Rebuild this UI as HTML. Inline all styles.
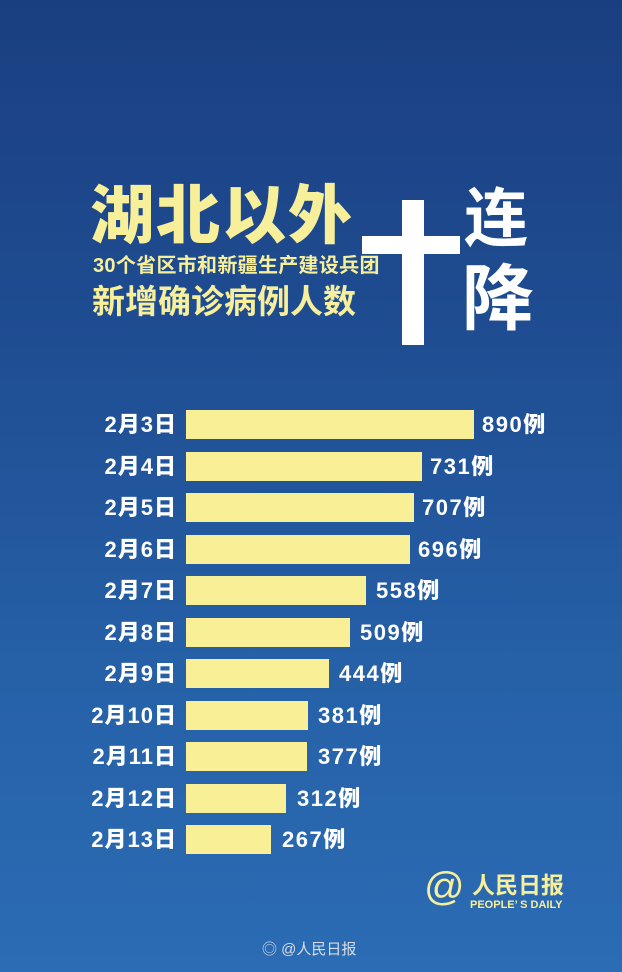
<!DOCTYPE html>
<html><head><meta charset="utf-8"><style>
body{margin:0;width:622px;height:972px;overflow:hidden;}
.bg{position:relative;width:622px;height:972px;background:linear-gradient(180deg,#1a3f80 0%,#1f4d92 35%,#2661a8 70%,#2b6cb4 100%);font-family:"Liberation Sans","Noto Sans CJK SC",sans-serif;font-weight:bold;}
.t{position:absolute;white-space:nowrap;}
.y{color:#f8ef9a;}
.bar{position:absolute;left:186px;height:29px;background:#f8ef96;}
.lab{position:absolute;right:445px;color:#fff;font-size:22px;letter-spacing:1px;line-height:29px;white-space:nowrap;font-weight:900;}
.val{position:absolute;color:#fff;font-size:22px;letter-spacing:1.5px;line-height:29px;white-space:nowrap;font-weight:900;}
</style></head><body><div class="bg">
<div class="t y" style="left:90px;top:176px;font-size:64px;line-height:80px;letter-spacing:2px;font-weight:900;">湖北以外</div>
<div class="t y" style="left:93px;top:254px;font-size:20px;line-height:24px;letter-spacing:0.3px;">30个省区市和新疆生产建设兵团</div>
<div class="t y" style="left:92px;top:283px;font-size:33px;line-height:38px;">新增确诊病例人数</div>
<div style="position:absolute;left:362px;top:236px;width:98px;height:18px;background:#fff;"></div>
<div style="position:absolute;left:402px;top:200px;width:22px;height:145px;background:#fff;"></div>
<div class="t" style="left:464px;top:186px;font-size:64px;line-height:66px;color:#fff;">连</div>
<div class="t" style="left:462px;top:262px;font-size:72px;line-height:76px;color:#fff;">降</div>

<div class="lab" style="top:410px">2月3日</div><div class="bar" style="top:410px;width:288px"></div><div class="val" style="top:410px;left:482px">890例</div>
<div class="lab" style="top:452px">2月4日</div><div class="bar" style="top:452px;width:236px"></div><div class="val" style="top:452px;left:430px">731例</div>
<div class="lab" style="top:493px">2月5日</div><div class="bar" style="top:493px;width:228px"></div><div class="val" style="top:493px;left:422px">707例</div>
<div class="lab" style="top:535px">2月6日</div><div class="bar" style="top:535px;width:224px"></div><div class="val" style="top:535px;left:418px">696例</div>
<div class="lab" style="top:576px">2月7日</div><div class="bar" style="top:576px;width:180px"></div><div class="val" style="top:576px;left:376px">558例</div>
<div class="lab" style="top:618px">2月8日</div><div class="bar" style="top:618px;width:164px"></div><div class="val" style="top:618px;left:360px">509例</div>
<div class="lab" style="top:659px">2月9日</div><div class="bar" style="top:659px;width:143px"></div><div class="val" style="top:659px;left:339px">444例</div>
<div class="lab" style="top:701px">2月10日</div><div class="bar" style="top:701px;width:122px"></div><div class="val" style="top:701px;left:318px">381例</div>
<div class="lab" style="top:742px">2月11日</div><div class="bar" style="top:742px;width:121px"></div><div class="val" style="top:742px;left:318px">377例</div>
<div class="lab" style="top:784px">2月12日</div><div class="bar" style="top:784px;width:100px"></div><div class="val" style="top:784px;left:297px">312例</div>
<div class="lab" style="top:825px">2月13日</div><div class="bar" style="top:825px;width:85px"></div><div class="val" style="top:825px;left:282px">267例</div>

<div class="t y" style="left:424px;top:866px;font-size:40px;line-height:42px;font-weight:normal;">@</div>
<div class="t y" style="left:472px;top:872px;font-size:23px;line-height:26px;">人民日报</div>
<div class="t y" style="left:470px;top:899px;font-size:11px;line-height:12px;">PEOPLE’ S DAILY</div>
<div class="t" style="left:262px;top:940px;font-size:15px;line-height:20px;color:#d8dde6;font-weight:normal;">◎ @人民日报</div>
</div></body></html>
